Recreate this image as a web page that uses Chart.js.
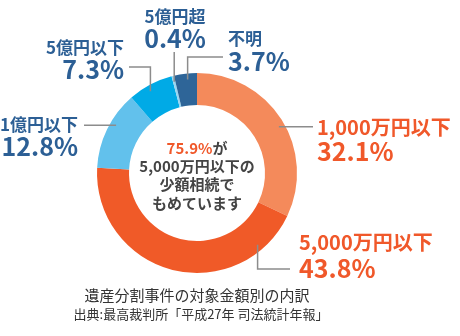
<!DOCTYPE html>
<html lang="ja">
<head>
<meta charset="utf-8">
<script src="https://cdn.jsdelivr.net/npm/chart.js@4.4.0/dist/chart.umd.min.js"></script>
<style>
  html, body { margin: 0; padding: 0; background: #fff; }
  #wrap { width: 460px; height: 336px; }
</style>
</head>
<body>
<div id="wrap"><canvas id="estateChart" width="460" height="336"></canvas></div>
<script>
// 遺産分割事件の対象金額別の内訳（%）
const categories = ['1,000万円以下', '5,000万円以下', '1億円以下', '5億円以下', '5億円超', '不明'];
const shares = [32.1, 43.8, 12.8, 7.3, 0.4, 3.7];
const sliceColors = ['#F48A5B', '#F05A28', '#62C1EC', '#00AAE6', '#9AD6F2', '#2E6598'];

const centerLines = [['75.9%', 'が'], ['5,000万円以下の'], ['少額相続で'], ['もめています']];
const titleText = '遺産分割事件の対象金額別の内訳';
const sourceText = '出典:最高裁判所「平成27年 司法統計年報」';

const ORANGE = '#F0582A';
const BLUE = '#2C5F95';
const FONT = '"Noto Sans CJK JP", "Noto Sans", sans-serif';

// callout placement for each slice: t = where on the arc the leader starts
const callouts = [
    { t: 0.525, route: 'h', toX: 313, textX: 317, align: 'left', nameY: 127, valueY: 151, color: ORANGE, nameSize: 20 },
    { t: 0.155, route: 'vh', toY: 269, toX: 290, textX: 299, align: 'left', nameY: 242, valueY: 268, color: ORANGE, nameSize: 20 },
    { t: 0.6, route: 'h', toX: 84, textX: 78, align: 'right', nameY: 125, valueY: 146, color: BLUE, nameSize: 17 },
    { t: 0.43, route: 'vh', toY: 67, toX: 129, textX: 124, align: 'right', nameY: 48, valueY: 69, color: BLUE, nameSize: 17 },
    { t: 0.5, route: 'v', toY: 52, textX: 175, align: 'center', nameY: 17, valueY: 38, color: BLUE, nameSize: 17 },
    { t: 0.57, route: 'vh', toY: 57, toX: 223, textX: 228, align: 'left', nameY: 39, valueY: 61, color: BLUE, nameSize: 17 }
];

const calloutPlugin = {
    id: 'callouts',
    afterDraw(chart) {
        const ctx = chart.ctx;
        const arcs = chart.getDatasetMeta(0).data;
        ctx.save();

        callouts.forEach((c, i) => {
            const arc = arcs[i];
            const a = arc.startAngle + c.t * (arc.endAngle - arc.startAngle);
            const r = arc.outerRadius * 0.94;
            const ax = arc.x + r * Math.cos(a);
            const ay = arc.y + r * Math.sin(a);

            ctx.strokeStyle = '#8C8C8C';
            ctx.lineWidth = 1.5;
            ctx.beginPath();
            ctx.moveTo(ax, ay);
            if (c.route === 'h') {
                ctx.lineTo(c.toX, ay);
            } else {
                ctx.lineTo(ax, c.toY);
                if (c.route === 'vh') ctx.lineTo(c.toX, c.toY);
            }
            ctx.stroke();

            ctx.fillStyle = c.color;
            ctx.textAlign = c.align;
            ctx.textBaseline = 'middle';
            ctx.font = `bold ${c.nameSize}px ${FONT}`;
            ctx.fillText(categories[i], c.textX, c.nameY);
            ctx.font = `bold 25px ${FONT}`;
            ctx.fillText(shares[i].toFixed(1) + '%', c.textX, c.valueY);
        });

        // text inside the ring
        const cx = arcs[0].x;
        const cy = arcs[0].y;
        ctx.font = `bold 15px ${FONT}`;
        ctx.textBaseline = 'middle';
        ctx.textAlign = 'left';
        centerLines.forEach((parts, k) => {
            const y = cy - 25 + k * 18.3;
            const total = parts.reduce((w, p) => w + ctx.measureText(p).width, 0);
            let x = cx - total / 2;
            parts.forEach((p, j) => {
                ctx.fillStyle = (k === 0 && j === 0) ? ORANGE : '#444444';
                ctx.fillText(p, x, y);
                x += ctx.measureText(p).width;
            });
        });

        // caption below the chart
        ctx.fillStyle = '#333333';
        ctx.textAlign = 'center';
        ctx.font = `15px ${FONT}`;
        ctx.fillText(titleText, 197, 295);
        ctx.font = `13px ${FONT}`;
        ctx.fillText(sourceText, 201, 314);

        ctx.restore();
    }
};

new Chart(document.getElementById('estateChart'), {
    type: 'doughnut',
    data: {
        labels: categories,
        datasets: [{
            data: shares,
            backgroundColor: sliceColors,
            borderWidth: 0
        }]
    },
    options: {
        responsive: false,
        animation: false,
        cutout: '68%',
        layout: { padding: { left: 97, top: 73, right: 163, bottom: 63 } },
        plugins: {
            legend: { display: false },
            tooltip: { enabled: false }
        }
    },
    plugins: [calloutPlugin]
});
</script>
</body>
</html>
